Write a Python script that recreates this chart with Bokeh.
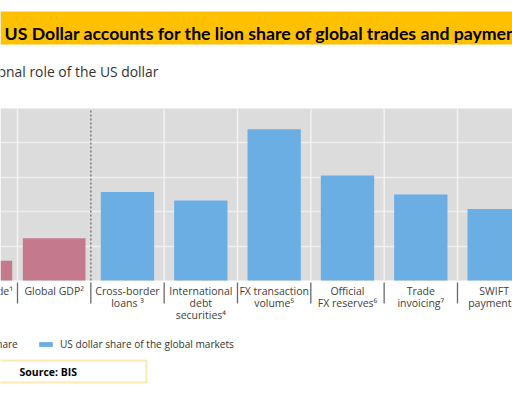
from bokeh.plotting import figure
from bokeh.models import Range1d, BoxAnnotation, Label, FixedTicker, Legend, LegendItem, ColumnDataSource
from bokeh.core.properties import value
from bokeh.embed import file_html
from bokeh.resources import INLINE

# ---- data ----
categories = ["Global trade¹", "Global GDP²", "Cross-border\nloans ³",
              "International\ndebt\nsecurities⁴", "FX transaction\nvolume⁵",
              "Official\nFX reserves⁶", "Trade\ninvoicing⁷", "SWIFT\npayments⁸"]
us_economy_share = [11.5, 24.5]            # first two categories
usd_market_share = [51.5, 46.5, 88, 61, 50, 41.5]  # remaining categories
y_ticks = [20, 40, 60, 80]
series_names = ["US economy share", "US dollar share of the global markets"]
title_text = "US Dollar accounts for the lion share of global trades and payments"
subtitle_text = "International role of the US dollar"
source_text = "Source: BIS"

# ---- layout helpers (figure pixel -> data) ----
W, H = 512, 396
KPX = 73.33           # pixels per category
K0 = 0.2682           # data x at left canvas edge
YPX = 1.72            # pixels per percentage point
BASE = 280            # pixel row of 0%

def dx(px):
    return K0 + px / KPX

def dy(py):
    return (BASE - py) / YPX

p = figure(width=W, height=H, x_range=Range1d(dx(0), dx(W)), y_range=Range1d(dy(H), dy(0)),
           output_backend="svg", toolbar_location=None, min_border=0)
p.axis.visible = False
p.outline_line_color = None
p.xgrid.visible = False
p.ygrid.ticker = FixedTicker(ticks=y_ticks)
p.ygrid.grid_line_color = "#eeeeee"
p.ygrid.grid_line_width = 1.5
p.background_fill_color = "white"

# grey plotting area
p.add_layout(BoxAnnotation(bottom=0, top=100, fill_color="#dcdcdc", fill_alpha=1,
                           line_color=None, level="image"))

n = len(categories)
idx = list(range(n))
boundaries = [i + 0.5 for i in range(n - 1)]
split = len(us_economy_share) - 0.5
white_b = [b for b in boundaries if b != split]

p.segment(x0=white_b, y0=0, x1=white_b, y1=100, line_color="#f2f2f2", line_width=1.5)
p.segment(x0=[split], y0=0, x1=[split], y1=100, line_color="#858585", line_width=1.6,
          line_dash="2 2")
# separators below the axis
p.segment(x0=boundaries, y0=dy(282), x1=boundaries, y1=dy(303), line_color="#6a6a6a",
          line_width=1.3)

src_pink = ColumnDataSource(dict(x=idx[:len(us_economy_share)], top=us_economy_share))
src_blue = ColumnDataSource(dict(x=idx[len(us_economy_share):], top=usd_market_share))
r_pink = p.vbar(x="x", top="top", bottom=0, width=0.855, source=src_pink,
                fill_color="#c47a8c", line_color=None)
r_blue = p.vbar(x="x", top="top", bottom=0, width=0.727, source=src_blue,
                fill_color="#6aaee4", line_color=None)

# category labels
p.text(x=idx, y=dy(283), text=categories, text_align="center", text_baseline="top",
       text_font=value("Open Sans"), text_font_size=value("10.5px"), text_line_height=0.88,
       text_color="#404040")

# banner
p.add_layout(BoxAnnotation(top=dy(11), bottom=dy(44), fill_color="#ffc000", fill_alpha=1,
                           line_color=None))
p.add_layout(Label(x=dx(4), y=dy(33), text=title_text, text_font="Lato",
                   text_font_style="bold", text_font_size="17.7px", text_color="black",
                   text_baseline="alphabetic", text_align="left"))
p.add_layout(Label(x=dx(158), y=dy(71), text=subtitle_text, text_font="Open Sans",
                   text_font_size="13.9px", text_color="#333333",
                   text_baseline="alphabetic", text_align="right"))

# legends
for r, name, x0 in [(r_pink, series_names[0], -93), (r_blue, series_names[1], 37)]:
    lg = Legend(items=[LegendItem(label=name, renderers=[r])], location=(x0, 45),
                orientation="horizontal", padding=0, margin=0, spacing=0,
                glyph_width=17, glyph_height=6, label_height=12, label_standoff=6,
                label_text_font="Open Sans", label_text_font_size="10.1px",
                label_text_color="#333333", border_line_color=None,
                background_fill_alpha=0)
    p.add_layout(lg)

# source box
p.add_layout(BoxAnnotation(left=dx(-2), right=dx(146), top=dy(360), bottom=dy(382),
                           fill_color="white", fill_alpha=1, line_color="#f5b400",
                           line_width=2))
p.add_layout(Label(x=dx(19), y=dy(371), text=source_text, text_font="Open Sans",
                   text_font_style="bold", text_font_size="10.5px", text_color="black",
                   text_baseline="middle", text_align="left"))

open("out.html", "w").write(file_html(p, INLINE))
